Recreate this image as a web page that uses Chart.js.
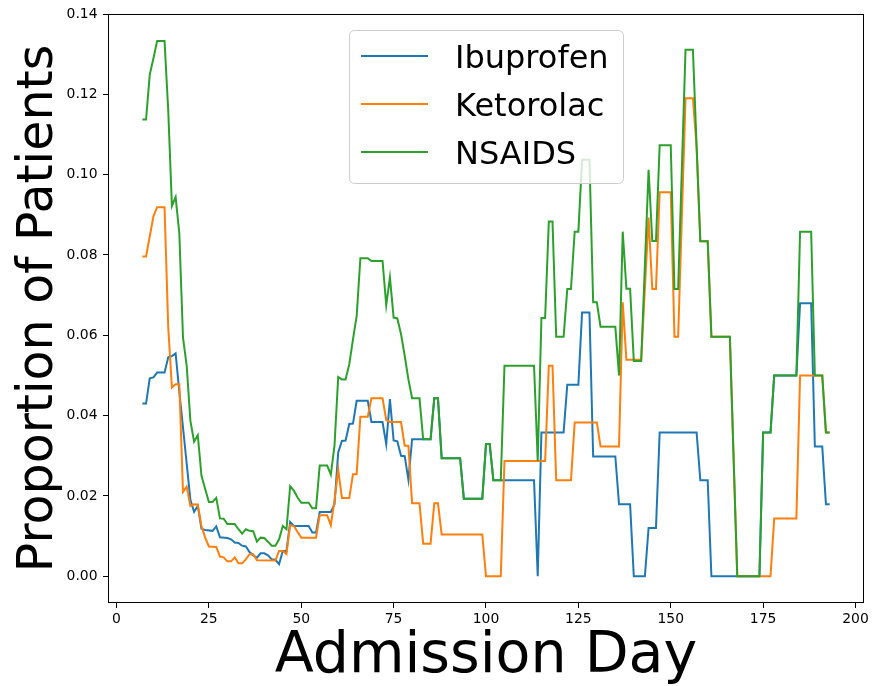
<!DOCTYPE html>
<html>
<head>
<meta charset="utf-8">
<script src="https://cdn.jsdelivr.net/npm/chart.js@4.4.1/dist/chart.umd.min.js"></script>
<style>
  body { margin: 0; background: #fff; }
  #wrap { width: 872px; height: 686px; }
</style>
</head>
<body>
<div id="wrap"><canvas id="chart" width="872" height="686"></canvas></div>
<script>
// breakpoints of each series (day, proportion)
const ibuDays = [7, 8, 9, 10, 11, 13, 14, 15, 16, 17, 18, 19, 20, 21, 22, 23, 24, 26, 27, 28, 30, 31, 32, 33, 34, 35, 36, 37, 38, 39, 40, 41, 42, 43, 44, 45, 46, 47, 48, 52, 53, 54, 55, 58, 59, 60, 61, 62, 63, 64, 65, 68, 69, 72, 73, 74, 75, 76, 77, 78, 79, 80, 85, 86, 87, 88, 93, 94, 99, 100, 101, 102, 113, 114, 115, 121, 122, 125, 126, 128, 129, 135, 136, 139, 140, 143, 144, 146, 147, 157, 158, 160, 161, 174, 175, 177, 178, 184, 185, 188, 189, 191, 192, 193];
const ibuVals = [0.043, 0.043, 0.0493, 0.0495, 0.0507, 0.0507, 0.0545, 0.0548, 0.0555, 0.046, 0.037, 0.028, 0.019, 0.016, 0.0175, 0.0118, 0.0115, 0.0113, 0.0124, 0.0097, 0.0095, 0.0092, 0.0084, 0.0083, 0.0076, 0.0074, 0.006, 0.0052, 0.0046, 0.0057, 0.0057, 0.0052, 0.0042, 0.0041, 0.003, 0.0063, 0.0063, 0.0135, 0.0125, 0.0125, 0.0109, 0.0109, 0.016, 0.016, 0.0179, 0.0308, 0.0337, 0.0338, 0.0379, 0.038, 0.0437, 0.0437, 0.0384, 0.0384, 0.0329, 0.0441, 0.0338, 0.0336, 0.03, 0.0299, 0.024, 0.0341, 0.0341, 0.0443, 0.0443, 0.0294, 0.0294, 0.0193, 0.0193, 0.0329, 0.0329, 0.0239, 0.0239, 0, 0.0358, 0.0358, 0.0477, 0.0477, 0.0657, 0.0657, 0.0298, 0.0298, 0.0179, 0.0179, 0, 0, 0.012, 0.012, 0.0358, 0.0358, 0.0239, 0.0239, 0, 0, 0.0358, 0.0358, 0.05, 0.05, 0.068, 0.068, 0.0323, 0.0323, 0.0179, 0.0179];

const ketDays = [7, 8, 10, 11, 13, 14, 15, 16, 17, 18, 19, 20, 21, 22, 23, 24, 25, 27, 28, 29, 30, 31, 32, 33, 34, 35, 36, 37, 38, 43, 44, 45, 46, 47, 48, 49, 50, 54, 55, 57, 58, 59, 60, 61, 63, 64, 65, 66, 68, 69, 72, 73, 74, 77, 78, 79, 80, 82, 83, 85, 86, 87, 88, 99, 100, 104, 105, 116, 117, 118, 119, 123, 124, 130, 131, 136, 137, 138, 142, 144, 145, 146, 147, 150, 151, 152, 154, 156, 157, 158, 160, 161, 166, 168, 177, 178, 184, 185, 191, 192, 193];
const ketVals = [0.0796, 0.0796, 0.0896, 0.0919, 0.0919, 0.062, 0.047, 0.0478, 0.0478, 0.021, 0.0223, 0.0175, 0.0179, 0.0178, 0.0125, 0.0096, 0.0074, 0.0073, 0.0049, 0.0047, 0.0037, 0.0037, 0.0047, 0.0032, 0.0032, 0.0042, 0.0055, 0.0055, 0.004, 0.0039, 0.0063, 0.0063, 0.0055, 0.0127, 0.0125, 0.011, 0.0096, 0.0096, 0.0152, 0.0152, 0.0127, 0.0188, 0.0266, 0.0195, 0.0195, 0.0254, 0.0254, 0.0397, 0.0397, 0.0443, 0.0443, 0.0389, 0.0384, 0.0384, 0.0325, 0.0325, 0.0182, 0.0182, 0.0081, 0.0081, 0.0182, 0.0182, 0.0104, 0.0104, 0, 0, 0.0287, 0.0287, 0.0524, 0.0524, 0.0239, 0.0239, 0.0383, 0.0383, 0.0323, 0.0323, 0.0682, 0.0539, 0.0539, 0.0893, 0.0715, 0.0715, 0.0956, 0.0956, 0.0596, 0.0596, 0.119, 0.119, 0.107, 0.0834, 0.0834, 0.0596, 0.0596, 0, 0, 0.0144, 0.0144, 0.05, 0.05, 0.0358, 0.0358];

const nsaDays = [7, 8, 9, 10, 11, 13, 14, 15, 16, 17, 18, 19, 20, 21, 22, 23, 24, 25, 26, 27, 28, 29, 30, 32, 33, 34, 35, 36, 37, 38, 39, 40, 41, 42, 43, 44, 45, 46, 47, 48, 49, 50, 52, 53, 54, 55, 57, 58, 59, 60, 61, 62, 63, 64, 65, 66, 68, 69, 72, 73, 74, 75, 76, 77, 78, 79, 80, 82, 83, 85, 86, 87, 88, 93, 94, 99, 100, 101, 102, 104, 105, 113, 114, 115, 116, 117, 118, 119, 121, 122, 123, 124, 125, 126, 128, 129, 130, 131, 135, 136, 137, 138, 139, 140, 142, 144, 145, 146, 147, 150, 151, 152, 154, 156, 157, 158, 160, 161, 166, 168, 174, 175, 177, 178, 184, 185, 188, 189, 191, 192, 193];
const nsaVals = [0.1137, 0.1137, 0.1249, 0.129, 0.1333, 0.1333, 0.116, 0.0922, 0.0944, 0.0854, 0.0594, 0.0524, 0.0387, 0.0335, 0.0351, 0.025, 0.0217, 0.0185, 0.0185, 0.0195, 0.0144, 0.0143, 0.013, 0.013, 0.0117, 0.0106, 0.0117, 0.0113, 0.0112, 0.0086, 0.0096, 0.0095, 0.0086, 0.0076, 0.0076, 0.0092, 0.0125, 0.0117, 0.0224, 0.0213, 0.0196, 0.0183, 0.0183, 0.0169, 0.0169, 0.0276, 0.0276, 0.0253, 0.0325, 0.0496, 0.049, 0.049, 0.0528, 0.059, 0.0648, 0.0792, 0.0792, 0.0785, 0.0785, 0.0675, 0.0744, 0.0644, 0.0642, 0.0603, 0.0549, 0.049, 0.0443, 0.0443, 0.0341, 0.0341, 0.0443, 0.0443, 0.0294, 0.0294, 0.0193, 0.0193, 0.0329, 0.0329, 0.0239, 0.0239, 0.0524, 0.0524, 0.0287, 0.0643, 0.0643, 0.0883, 0.0883, 0.0596, 0.0596, 0.0715, 0.0715, 0.0858, 0.0858, 0.1037, 0.1037, 0.0682, 0.0682, 0.0621, 0.0621, 0.05, 0.0858, 0.0716, 0.0716, 0.0536, 0.0536, 0.1012, 0.0835, 0.0835, 0.1073, 0.1073, 0.0715, 0.0715, 0.1311, 0.1311, 0.107, 0.0834, 0.0834, 0.0596, 0.0596, 0, 0, 0.0358, 0.0358, 0.05, 0.05, 0.0858, 0.0858, 0.05, 0.05, 0.0358, 0.0358];

const seriesNames = ['Ibuprofen', 'Ketorolac', 'NSAIDS'];
const seriesColors = ['#1f77b4', '#ff7f0e', '#2ca02c'];
const xTicks = [0, 25, 50, 75, 100, 125, 150, 175, 200];
const yTicks = [0, 0.02, 0.04, 0.06, 0.08, 0.1, 0.12, 0.14];

const FONT = "'DejaVu Sans', sans-serif";

function toPoints(days, vals) {
    return days.map((d, i) => ({ x: d, y: vals[i] }));
}

// axes box like matplotlib (all four spines)
const framePlugin = {
    id: 'frame',
    afterDraw(chart) {
        const { ctx, chartArea: a } = chart;
        ctx.save();
        ctx.strokeStyle = '#000';
        ctx.lineWidth = 1;
        ctx.strokeRect(a.left + 0.5, a.top + 0.5, a.right - a.left - 1, a.bottom - a.top - 1);
        ctx.restore();
    }
};

// legend box in the upper middle of the plot
const legendPlugin = {
    id: 'boxLegend',
    afterDatasetsDraw(chart) {
        const { ctx } = chart;
        const x = 349, y = 30, w = 274, h = 153, r = 5;
        ctx.save();
        ctx.beginPath();
        ctx.roundRect(x + 0.5, y + 0.5, w, h, r);
        ctx.fillStyle = 'rgba(255,255,255,0.8)';
        ctx.fill();
        ctx.strokeStyle = '#cccccc';
        ctx.lineWidth = 1;
        ctx.stroke();
        seriesNames.forEach((name, i) => {
            const rowY = 56 + i * 48;
            ctx.beginPath();
            ctx.moveTo(361, rowY);
            ctx.lineTo(428, rowY);
            ctx.strokeStyle = seriesColors[i];
            ctx.lineWidth = 2;
            ctx.stroke();
            ctx.fillStyle = '#000';
            ctx.font = '32px ' + FONT;
            ctx.textBaseline = 'alphabetic';
            ctx.fillText(name, 455, rowY + 12);
        });
        ctx.restore();
    }
};

const ctx = document.getElementById('chart').getContext('2d');
new Chart(ctx, {
    type: 'line',
    data: {
        datasets: [
            // lower order is drawn on top, so NSAIDS ends up above the others
            { label: seriesNames[0], data: toPoints(ibuDays, ibuVals), borderColor: seriesColors[0], order: 3 },
            { label: seriesNames[1], data: toPoints(ketDays, ketVals), borderColor: seriesColors[1], order: 2 },
            { label: seriesNames[2], data: toPoints(nsaDays, nsaVals), borderColor: seriesColors[2], order: 1 }
        ]
    },
    options: {
        responsive: false,
        animation: false,
        devicePixelRatio: 1,
        elements: {
            line: { borderWidth: 2, tension: 0, fill: false },
            point: { radius: 0, hoverRadius: 0 }
        },
        layout: { padding: { top: 14, right: 8, left: 0, bottom: 0 } },
        plugins: {
            legend: { display: false },
            tooltip: { enabled: false }
        },
        scales: {
            x: {
                type: 'linear',
                min: -2.3,
                max: 202.3,
                afterBuildTicks: s => { s.ticks = xTicks.map(v => ({ value: v })); },
                afterFit: s => { s.height = 83; },
                grid: { drawOnChartArea: false, drawTicks: true, tickLength: 5, tickColor: '#000' },
                border: { display: false },
                ticks: { color: '#000', font: { family: FONT, size: 13.9 }, padding: 3, maxRotation: 0 },
                title: {
                    display: true,
                    text: 'Admission Day',
                    color: '#000',
                    font: { family: FONT, size: 57 },
                    padding: { top: 0, bottom: -5.5 }
                }
            },
            y: {
                min: -0.00667,
                max: 0.14,
                afterBuildTicks: s => { s.ticks = yTicks.map(v => ({ value: v })); },
                afterFit: s => { s.width = 108; },
                grid: { drawOnChartArea: false, drawTicks: true, tickLength: 5, tickColor: '#000' },
                border: { display: false },
                ticks: {
                    color: '#000',
                    font: { family: FONT, size: 13.9 },
                    padding: 5.5,
                    callback: v => v.toFixed(2)
                },
                title: {
                    display: true,
                    text: 'Proportion of Patients',
                    color: '#000',
                    font: { family: FONT, size: 49 },
                    padding: { top: 9.6, bottom: 0 }
                }
            }
        }
    },
    plugins: [framePlugin, legendPlugin]
});
</script>
</body>
</html>
